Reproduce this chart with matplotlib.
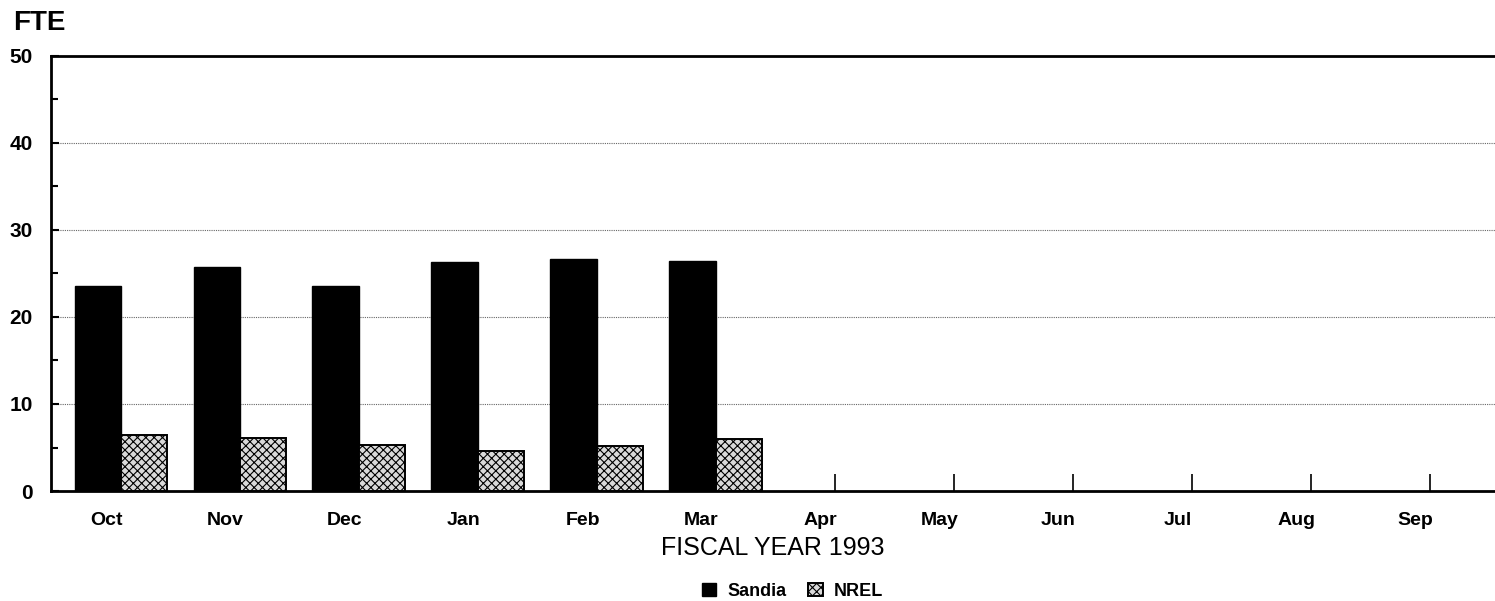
import matplotlib.pyplot as plt
import matplotlib as mpl
import numpy as np

months = ["Oct", "Nov", "Dec", "Jan", "Feb", "Mar", "Apr", "May", "Jun", "Jul", "Aug", "Sep"]
sandia = [23.6, 25.7, 23.6, 26.3, 26.7, 26.4]
nrel = [6.4, 6.1, 5.3, 4.6, 5.2, 6.0]

mpl.rc("font", family=["Liberation Sans", "DejaVu Sans"], weight="bold")
mpl.rcParams["hatch.linewidth"] = 0.8

fig = plt.figure(figsize=(14.95, 6.01), dpi=100)
ax = fig.add_axes([0.0341, 0.183, 0.9659, 0.724])

x = np.arange(len(months))
w = 0.39
ax.bar(x[:len(sandia)] - w / 2, sandia, w, color="black", edgecolor="black",
       label="Sandia", zorder=3)
ax.bar(x[:len(nrel)] + w / 2, nrel, w, color="#dadada", edgecolor="black",
       hatch="xxxx", linewidth=1.4, label="NREL", zorder=3)

ax.set_xlim(-0.588, 11.55)
ax.set_ylim(0, 50)
ax.set_yticks(range(0, 51, 10))
ax.set_yticks(range(5, 50, 10), minor=True)
# labels sit a little left of the group centres, ticks on the centres
ax.set_xticks(x - 0.12)
ax.set_xticklabels(months, fontsize=14, fontweight="bold")
ax.set_xticks(x, minor=True)
ax.tick_params(axis="x", which="major", length=0, pad=15)
ax.tick_params(axis="x", which="minor", direction="in", length=12, width=1.2)
ax.tick_params(axis="y", which="both", direction="in", labelsize=15, length=6, width=1.5, pad=13)
ax.tick_params(axis="y", which="minor", length=5)
for lab in ax.get_yticklabels():
    lab.set_fontweight("bold")

ax.grid(axis="y", linestyle=(0, (1, 1)), color="#666666", linewidth=0.8, zorder=0)
ax.spines["right"].set_visible(False)
for s in ["top", "left", "bottom"]:
    ax.spines[s].set_linewidth(2)

ax.set_xlabel("FISCAL YEAR 1993", fontsize=18, fontweight="normal", labelpad=5)
fig.text(0.009, 0.94, "FTE", fontsize=20, fontweight="bold", ha="left", va="bottom")

fig.legend(loc="lower center", bbox_to_anchor=(0.53, -0.025), ncol=2, frameon=False,
           fontsize=13, handlelength=0.8, handleheight=0.8, columnspacing=1.2,
           handletextpad=0.6)

fig.savefig("out.png", dpi=100)
